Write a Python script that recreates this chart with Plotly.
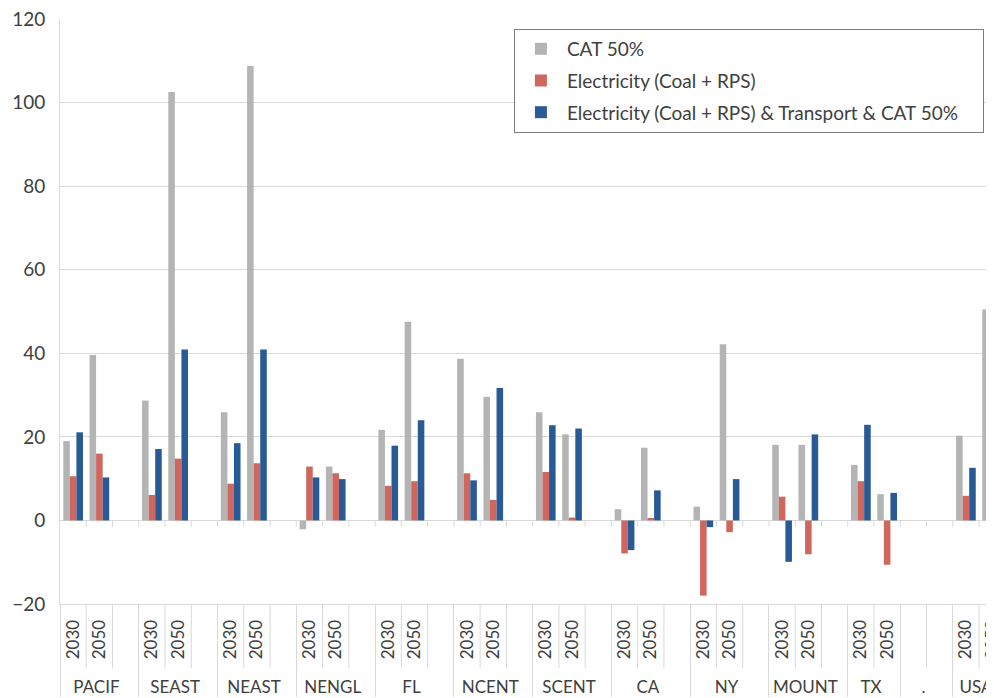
import plotly.graph_objects as go

# ============================================================
# Data
# ============================================================

regions = (
    ["PACIF"] * 3 + ["SEAST"] * 3 + ["NEAST"] * 3 + ["NENGL"] * 3 + ["FL"] * 3
    + ["NCENT"] * 3 + ["SCENT"] * 3 + ["CA"] * 3 + ["NY"] * 3 + ["MOUNT"] * 3
    + ["TX"] * 2 + ["."] * 2 + ["USA"] * 2
)
years = ["2030", "2050", " "] * 10 + ["2030", "2050"] + [" ", "  "] + ["2030", "2050"]

cat_50 = [
    19.0, 39.6, None,  28.7, 102.6, None,  25.9, 108.8, None,
    -2.1, 12.9, None,  21.7, 47.6, None,  38.7, 29.6, None,
    25.9, 20.6, None,  2.7, 17.4, None,  3.3, 42.2, None,
    18.1, 18.1, None,  13.3, 6.3,  None, None,  20.3, 50.5,
]
elec = [
    10.6, 16.0, None,  6.1, 14.8, None,  8.8, 13.7, None,
    12.9, 11.3, None,  8.3, 9.4, None,  11.3, 4.9, None,
    11.6, 0.7, None,  -7.9, 0.6, None,  -18.0, -2.8, None,
    5.7, -8.1, None,  9.4, -10.6,  None, None,  5.9, 4.5,
]
elec_transport_cat = [
    21.1, 10.3, None,  17.1, 40.9, None,  18.5, 40.9, None,
    10.3, 9.9, None,  17.9, 24.0, None,  9.6, 31.7, None,
    22.8, 22.0, None,  -7.1, 7.2, None,  -1.6, 9.9, None,
    -9.9, 20.6, None,  22.9, 6.6,  None, None,  12.6, None,
]

series_names = [
    "CAT 50%",
    "Electricity (Coal + RPS)",
    "Electricity (Coal + RPS) & Transport & CAT 50%",
]
series_colors = ["#B4B4B4", "#D0675F", "#285A95"]

# ============================================================
# Figure
# ============================================================

FONT = "Lato, Open Sans, sans-serif"
GRID = "#D9D9D9"
NBSP = "\u00a0"
x_range = [-0.5, 35.07]

# leading non-breaking spaces give the rotated year row a little more depth
year_labels = [NBSP * 2 + y for y in years]

fig = go.Figure()

for i, (name, vals) in enumerate(zip(series_names, [cat_50, elec, elec_transport_cat])):
    fig.add_trace(
        go.Bar(
            x=[regions, year_labels],
            y=vals,
            name=name + (NBSP * 4 if i == 2 else ""),
            legendgroup=str(i),
            marker=dict(color=series_colors[i], line=dict(width=0)),
        )
    )

# slot separators in the label area and small ticks at the zero line
shapes = []
span = x_range[1] - x_range[0]
for k in range(1, len(regions)):
    px = (k - 0.5 - x_range[0]) / span
    if px > 1:
        break
    shapes.append(dict(type="line", xref="paper", yref="y", x0=px, x1=px,
                       y0=0, y1=-1.5, line=dict(color=GRID, width=1)))
    if regions[k] == regions[k - 1]:
        shapes.append(dict(type="line", xref="paper", yref="paper", x0=px, x1=px,
                           y0=0, y1=-0.11, line=dict(color=GRID, width=1)))

# page body adds an 8px offset, so the figure is 8px smaller than the window
fig.update_layout(
    width=986,
    height=690,
    margin=dict(l=52, r=0, t=11, b=94),
    plot_bgcolor="white",
    paper_bgcolor="white",
    font=dict(family=FONT, size=17, color="#404040"),
    barmode="group",
    bargap=0.25,
    bargroupgap=0,
    shapes=shapes,
    legend=dict(
        x=0.486,
        y=0.983,
        xanchor="left",
        yanchor="top",
        bordercolor="#7F7F7F",
        borderwidth=1,
        bgcolor="white",
        font=dict(family=FONT, size=19, color="#404040"),
        traceorder="grouped",
        tracegroupgap=4,
        itemwidth=42,
    ),
)

fig.update_yaxes(
    range=[-20, 120.05],
    dtick=20,
    showgrid=True,
    gridcolor=GRID,
    gridwidth=1,
    zeroline=True,
    zerolinecolor=GRID,
    zerolinewidth=1,
    showline=True,
    linecolor=GRID,
    ticks="",
    ticklabeloverflow="allow",
    ticklabelstandoff=10,
    tickfont=dict(size=19),
    automargin=False,
)

fig.update_xaxes(
    range=x_range,
    showline=True,
    linecolor=GRID,
    ticks="",
    tickangle=-90,
    ticklabelstandoff=8,
    showdividers=True,
    dividercolor=GRID,
    dividerwidth=1,
    tickfont=dict(size=17),
    automargin=False,
)

fig.write_html("out.html")
